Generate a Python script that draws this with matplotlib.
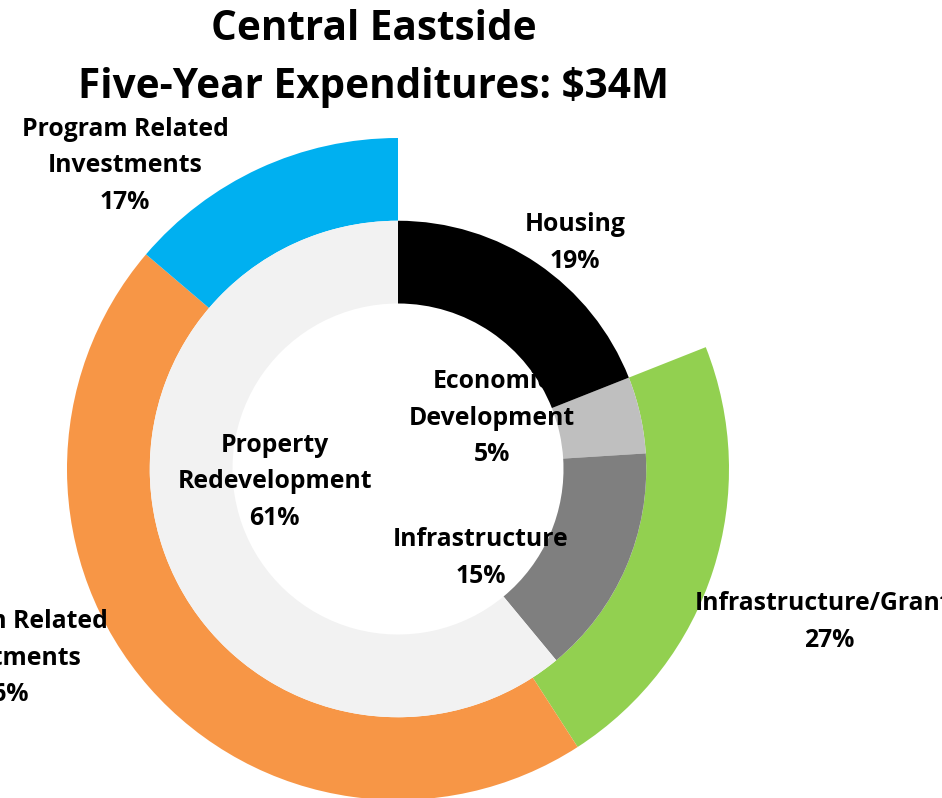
import matplotlib.pyplot as plt

plt.rcParams['font.family'] = ['Open Sans', 'DejaVu Sans']
plt.rcParams['font.weight'] = 'bold'

# inner ring: share of five-year spending by category
inner_labels = ['Housing', 'Economic\nDevelopment', 'Infrastructure', 'Property\nRedevelopment']
inner_pct = [19, 5, 15, 61]
inner_colors = ['#000000', '#BFBFBF', '#7F7F7F', '#F2F2F2']

# outer ring: split of the non-housing spending by funding tool
outer_labels = ['Infrastructure/Grants', 'Program Related\nInvestments', 'Program Related\nInvestments']
outer_pct = [27, 56, 17]
outer_colors = ['#92D050', '#F79646', '#00B0F0']

title_lines = ['Central Eastside', 'Five-Year Expenditures: $34M']

W, H = 942, 798
cx, cy, R = 398, 469, 331   # pixel centre / radius of the donut

fig = plt.figure(figsize=(W / 100, H / 100), dpi=100)
ax = fig.add_axes([0, 0, 1, 1])

ring_w = 0.25
inner_r = 0.75

# outer ring leaves the housing share empty
rest = 100 - inner_pct[0]
outer_sizes = [inner_pct[0]] + [p * rest / 100 for p in outer_pct]
wedges, _ = ax.pie(outer_sizes, radius=1.0, startangle=90, counterclock=False,
                   colors=['none'] + outer_colors,
                   wedgeprops=dict(width=ring_w, linewidth=0))

iw, _ = ax.pie(inner_pct, radius=inner_r, startangle=90, counterclock=False,
               colors=inner_colors, wedgeprops=dict(width=inner_r - 0.5, linewidth=0))
for w in iw:
    w.set_zorder(2)
iw[0].set_zorder(4)   # housing wedge sits above the economic development label

ax.set_xlim(-cx / R, (W - cx) / R)
ax.set_ylim(-(H - cy) / R, cy / R)
ax.set_aspect('equal')
ax.axis('off')

fs = 17.8
ls = 1.62
# label positions in donut units (radius = 1)
inner_pos = [(0.535, 0.683), (0.284, 0.154), (0.251, -0.269), (-0.372, -0.039)]
outer_pos = [(1.302, -0.462), (-1.190, -0.571), (-0.825, 0.916)]

for lab, pct, (x, y), i in zip(inner_labels, inner_pct, inner_pos, range(4)):
    ax.text(x, y, f'{lab}\n{pct}%', ha='center', va='center', fontsize=fs,
            linespacing=ls, zorder=3 if i == 1 else 5)
for lab, pct, (x, y) in zip(outer_labels, outer_pct, outer_pos):
    ax.text(x, y, f'{lab}\n{pct}%', ha='center', va='center', fontsize=fs,
            linespacing=ls, zorder=5)

fig.text(374 / W, 1 - 30 / H, title_lines[0], ha='center', va='center', fontsize=29.2)
fig.text(374 / W, 1 - 88 / H, title_lines[1], ha='center', va='center', fontsize=29.2)

fig.savefig('out.png', dpi=100)
